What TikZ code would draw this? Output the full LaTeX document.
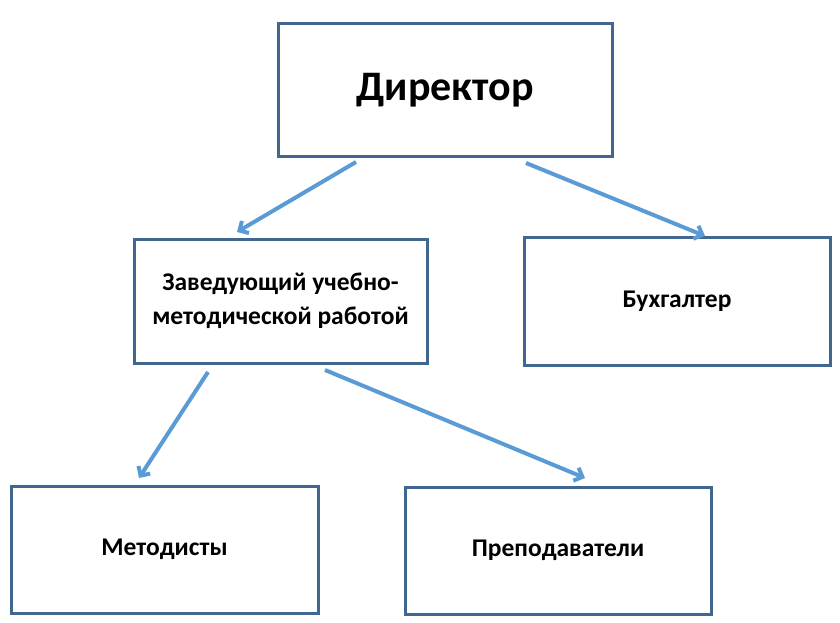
\documentclass[tikz,border=0pt]{standalone}
\usepackage{fontspec}
\setmainfont{Carlito}
\definecolor{boxline}{HTML}{41668F}
\definecolor{arrowline}{HTML}{5B9BD5}
\tikzset{
  unit/.style={draw=boxline, line width=3pt, align=center, font=\bfseries\fontsize{25.5}{34}\selectfont},
  link/.style={draw=arrowline, line width=4pt, -{Straight Barb[length=7pt,width=14pt]}}
}
\usetikzlibrary{arrows.meta}
\begin{document}
\begin{tikzpicture}[x=1pt,y=-1pt]
  \useasboundingbox (0,0) rectangle (840,623);

  % Boxes
  \node[unit, minimum width=334, minimum height=133, font=\bfseries\fontsize{42}{48}\selectfont] (dir) at (445,90) {Директор};
  \node[unit, minimum width=293, minimum height=124] (zav) at (280.5,301) {Заведующий учебно-\\методической работой};
  \node[unit, minimum width=306, minimum height=128] (buh) at (677,301) {Бухгалтер};
  \node[unit, minimum width=307, minimum height=127] (met) at (164.5,549.5) {Методисты};
  \node[unit, minimum width=306, minimum height=127] (pre) at (558,550.5) {Преподаватели};

  % Connector ends
  \coordinate (dirL) at (356,162);
  \coordinate (dirR) at (526,163);
  \coordinate (zavL) at (208,372);
  \coordinate (zavR) at (325,370);
  \coordinate (zavT) at (237,232);
  \coordinate (buhT) at (705,236);
  \coordinate (metT) at (139,478);
  \coordinate (preT) at (585,478);

  % Arrows
  \draw[link] (dirL) -- (zavT);
  \draw[link] (dirR) -- (buhT);
  \draw[link] (zavL) -- (metT);
  \draw[link] (zavR) -- (preT);
\end{tikzpicture}
\end{document}
